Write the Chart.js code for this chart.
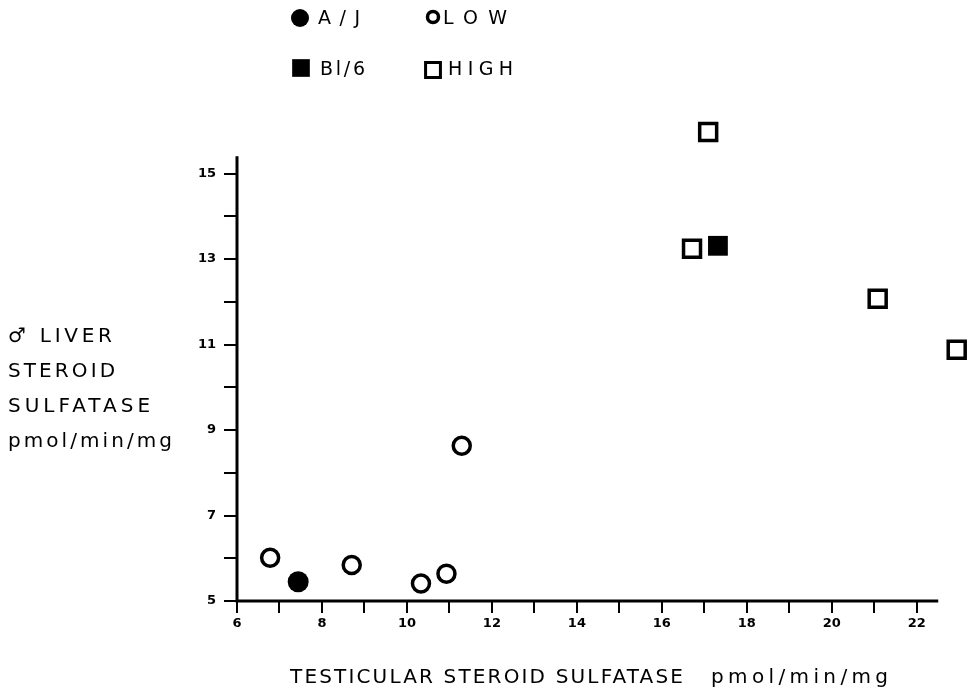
<!DOCTYPE html>
<html>
<head>
<meta charset="utf-8">
<script src="https://cdn.jsdelivr.net/npm/chart.js@4.4.1/dist/chart.umd.min.js"></script>
<style>
  html, body { margin: 0; padding: 0; background: #fff; }
  #wrap { width: 974px; height: 691px; }
</style>
</head>
<body>
<div id="wrap"><canvas id="chart" width="974" height="691"></canvas></div>
<script>
// ---- Data ----------------------------------------------------
var ajX = [7.44];
var ajY = [5.45];

var lowX = [6.78, 8.70, 10.33, 10.93, 11.29];
var lowY = [6.01, 5.84, 5.41, 5.64, 8.63];

var bl6X = [17.32];
var bl6Y = [13.31];

var highX = [17.09, 16.71, 21.08, 22.94];
var highY = [15.97, 13.24, 12.07, 10.88];

// ---- Axes ------------------------------------------------------
var xTickValues = [6, 7, 8, 9, 10, 11, 12, 13, 14, 15, 16, 17, 18, 19, 20, 21, 22];
var xTickLabels = ['6', '', '8', '', '10', '', '12', '', '14', '', '16', '', '18', '', '20', '', '22'];
var yTickValues = [5, 6, 7, 8, 9, 10, 11, 12, 13, 14, 15];
var yTickLabels = ['5', '', '7', '', '9', '', '11', '', '13', '', '15'];

// drawn axis lines stop here; the scales run a bit further so that
// the two outlying squares are still drawn
var xAxisEnd = 22.47;
var yAxisEnd = 15.37;

var yTitleLines = ['\u2642 LIVER', 'STEROID', 'SULFATASE', 'pmol/min/mg'];
var xTitleMain = 'TESTICULAR STEROID SULFATASE';
var xTitleUnit = 'pmol/min/mg';

function toPoints(xs, ys) {
  return xs.map(function (x, i) { return { x: x, y: ys[i] }; });
}

// ---- Draw text stretched to a given width ----------------------
function drawFitted(ctx, text, x, y, width) {
  ctx.letterSpacing = '0px';
  var w = ctx.measureText(text).width;
  var n = Array.from(text).length;
  var sp = n > 1 ? (width - w) / (n - 1) : 0;
  ctx.letterSpacing = sp.toFixed(2) + 'px';
  ctx.fillText(text, x, y);
  ctx.letterSpacing = '0px';
}

// ---- Axis lines (only up to the printed length) ----------------
var axisPlugin = {
  id: 'axisPlugin',
  beforeDatasetsDraw: function (chart) {
    var ctx = chart.ctx;
    var xs = chart.scales.x, ys = chart.scales.y;
    var x0 = xs.getPixelForValue(6), y0 = ys.getPixelForValue(5);
    ctx.save();
    ctx.strokeStyle = '#000';
    ctx.lineWidth = 3;
    ctx.lineCap = 'square';
    ctx.beginPath();
    ctx.moveTo(x0, y0);
    ctx.lineTo(xs.getPixelForValue(xAxisEnd), y0);
    ctx.moveTo(x0, y0);
    ctx.lineTo(x0, ys.getPixelForValue(yAxisEnd));
    ctx.stroke();
    ctx.restore();
  }
};

// ---- Legend + free-standing titles -----------------------------
var textPlugin = {
  id: 'textPlugin',
  afterDraw: function (chart) {
    var ctx = chart.ctx;
    var ds = chart.data.datasets;
    ctx.save();
    ctx.textBaseline = 'middle';
    ctx.textAlign = 'left';

    // legend: symbol x, y, radius, border, text x, text width, text y
    var legendPos = [
      [300, 18, 9, 0, 318, 42, 19],
      [433, 17, 5.5, 3.5, 443, 64, 19],
      [301, 68, 12.5, 0, 320, 45, 70],
      [433, 70, 10.5, 3, 448, 65, 70]
    ];
    for (var i = 0; i < ds.length; i++) {
      var p = legendPos[i];
      ctx.fillStyle = ds[i].backgroundColor;
      ctx.strokeStyle = '#000';
      ctx.lineWidth = p[3];
      Chart.helpers.drawPoint(ctx, {
        pointStyle: ds[i].pointStyle, radius: p[2], borderWidth: p[3], rotation: 0
      }, p[0], p[1]);
      ctx.fillStyle = '#000';
      ctx.font = '19px "DejaVu Sans"';
      drawFitted(ctx, ds[i].label, p[4], p[6], p[5]);
    }

    // y title (horizontal, stacked lines)
    ctx.font = '20px "DejaVu Sans"';
    var yWidths = [104, 107, 142, 164];
    for (var j = 0; j < yTitleLines.length; j++) {
      drawFitted(ctx, yTitleLines[j], 8, 337 + j * 35, yWidths[j]);
    }

    // x title
    drawFitted(ctx, xTitleMain, 290, 678, 393);
    drawFitted(ctx, xTitleUnit, 711, 678, 177);
    ctx.restore();
  }
};

var ctx = document.getElementById('chart').getContext('2d');
new Chart(ctx, {
  type: 'scatter',
  data: {
    datasets: [
      {
        label: 'A/J',
        data: toPoints(ajX, ajY),
        pointStyle: 'circle',
        pointRadius: 10.5,
        pointBorderWidth: 0,
        backgroundColor: '#000',
        borderColor: '#000',
        clip: false
      },
      {
        label: 'LOW',
        data: toPoints(lowX, lowY),
        pointStyle: 'circle',
        pointRadius: 8.5,
        pointBorderWidth: 3.5,
        backgroundColor: '#fff',
        borderColor: '#000',
        clip: false
      },
      {
        label: 'Bl/6',
        data: toPoints(bl6X, bl6Y),
        pointStyle: 'rect',
        pointRadius: 14,
        pointBorderWidth: 0,
        backgroundColor: '#000',
        borderColor: '#000',
        clip: false
      },
      {
        label: 'HIGH',
        data: toPoints(highX, highY),
        pointStyle: 'rect',
        pointRadius: 12,
        pointBorderWidth: 3.5,
        backgroundColor: '#fff',
        borderColor: '#000',
        clip: false
      }
    ]
  },
  options: {
    responsive: false,
    animation: false,
    layout: { autoPadding: false, padding: { left: 0, top: 118, right: 2, bottom: 0 } },
    plugins: {
      legend: { display: false },
      tooltip: { enabled: false }
    },
    scales: {
      x: {
        type: 'linear',
        min: 6,
        max: 23.3,
        afterBuildTicks: function (s) {
          s.ticks = xTickValues.map(function (v) { return { value: v }; });
        },
        afterFit: function (s) {
          s.height = 90;
          s.paddingLeft = 0;
          s.paddingRight = 0;
        },
        ticks: {
          autoSkip: false,
          maxRotation: 0,
          padding: 3,
          color: '#000',
          font: { family: '"DejaVu Sans"', size: 13, weight: 'bold' },
          callback: function (v) {
            var k = xTickValues.indexOf(v);
            return k >= 0 ? xTickLabels[k] : '';
          }
        },
        grid: { drawOnChartArea: false, drawTicks: true, tickLength: 12, color: '#000', lineWidth: 2 },
        border: { display: false }
      },
      y: {
        type: 'linear',
        min: 5,
        max: 16.3,
        afterBuildTicks: function (s) {
          s.ticks = yTickValues.map(function (v) { return { value: v }; });
        },
        afterFit: function (s) {
          s.width = 237;
          s.paddingTop = 0;
          s.paddingBottom = 0;
        },
        ticks: {
          autoSkip: false,
          padding: 8,
          color: '#000',
          font: { family: '"DejaVu Sans"', size: 13, weight: 'bold' },
          callback: function (v) {
            var k = yTickValues.indexOf(v);
            return k >= 0 ? yTickLabels[k] : '';
          }
        },
        grid: { drawOnChartArea: false, drawTicks: true, tickLength: 13, color: '#000', lineWidth: 2 },
        border: { display: false }
      }
    }
  },
  plugins: [axisPlugin, textPlugin]
});
</script>
</body>
</html>
